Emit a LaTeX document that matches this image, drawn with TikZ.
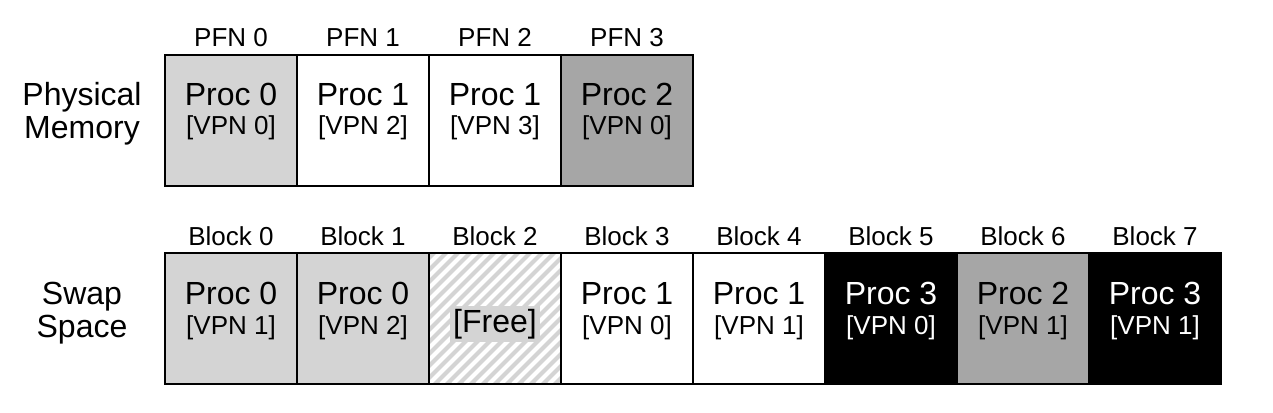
\documentclass[tikz,border=0pt]{standalone}
\usepackage{fontspec}
\setmainfont{Liberation Sans}
\begin{document}
\begin{tikzpicture}[x=1pt,y=-1pt,
  cell/.style={draw=black, line width=1.6pt, minimum width=132pt, minimum height=131pt, inner sep=0pt, outer sep=0pt, anchor=north west},
  big/.style={font=\fontsize{32}{36}\selectfont, anchor=base, inner sep=0pt},
  small/.style={font=\fontsize{26}{30}\selectfont, anchor=base, inner sep=0pt},
  side/.style={font=\fontsize{32}{34}\selectfont, anchor=base, inner sep=0pt},
  lgray/.style={fill=black!17},
  dgray/.style={fill=black!35},
  blk/.style={fill=black}
]
\useasboundingbox (0,0) rectangle (1273,412);
% side labels
\node[side] (phys) at (82,105) {Physical};
\node[side] (mem) at (82,138) {Memory};
\node[side] (swap) at (82,304) {Swap};
\node[side] (space) at (82,337) {Space};
% physical memory
\node[cell, lgray] (p0) at (165,55) {};
\node[cell, fill=white] (p1) at (297,55) {};
\node[cell, fill=white] (p2) at (429,55) {};
\node[cell, dgray] (p3) at (561,55) {};
\foreach \i/\t/\v in {0/0/0,1/1/2,2/1/3,3/2/0}{
  \node[small] (pfn\i) at (231+\i*132,47) {PFN \i};
  \node[big] (pp\i) at (231+\i*132,105) {Proc \t};
  \node[small] (pv\i) at (231+\i*132,134) {[VPN \v]};
}
% swap space
\node[cell, lgray] (s0) at (165,253) {};
\node[cell, lgray] (s1) at (297,253) {};
\node[cell, lgray] (s2) at (429,253) {};
\node[cell, fill=white] (s3) at (561,253) {};
\node[cell, fill=white] (s4) at (693,253) {};
\node[cell, blk] (s5) at (825,253) {};
\node[cell, dgray] (s6) at (957,253) {};
\node[cell, blk] (s7) at (1089,253) {};
\begin{scope}
  \clip (s2.north west) rectangle (s2.south east);
  \foreach \k in {-12,...,12}{
    \draw[white, line width=4pt] ([xshift=\k*12pt]s2.south west) -- ++(140,-140);
  }
\end{scope}
\draw[line width=1.6pt] (s2.north west) rectangle (s2.south east);
\foreach \i in {0,...,7}{
  \node[small] (blk\i) at (231+\i*132,245) {Block \i};
}
\foreach \i/\t/\v in {0/0/1,1/0/2,3/1/0,4/1/1,6/2/1}{
  \node[big] (sp\i) at (231+\i*132,304) {Proc \t};
  \node[small] (sv\i) at (231+\i*132,334) {[VPN \v]};
}
\foreach \i/\t/\v in {5/3/0,7/3/1}{
  \node[big, text=white] (sp\i) at (231+\i*132,304) {Proc \t};
  \node[small, text=white] (sv\i) at (231+\i*132,334) {[VPN \v]};
}
\node[big, fill=black!17, inner sep=3pt] (free) at (495,332) {[Free]};
\end{tikzpicture}
\end{document}
